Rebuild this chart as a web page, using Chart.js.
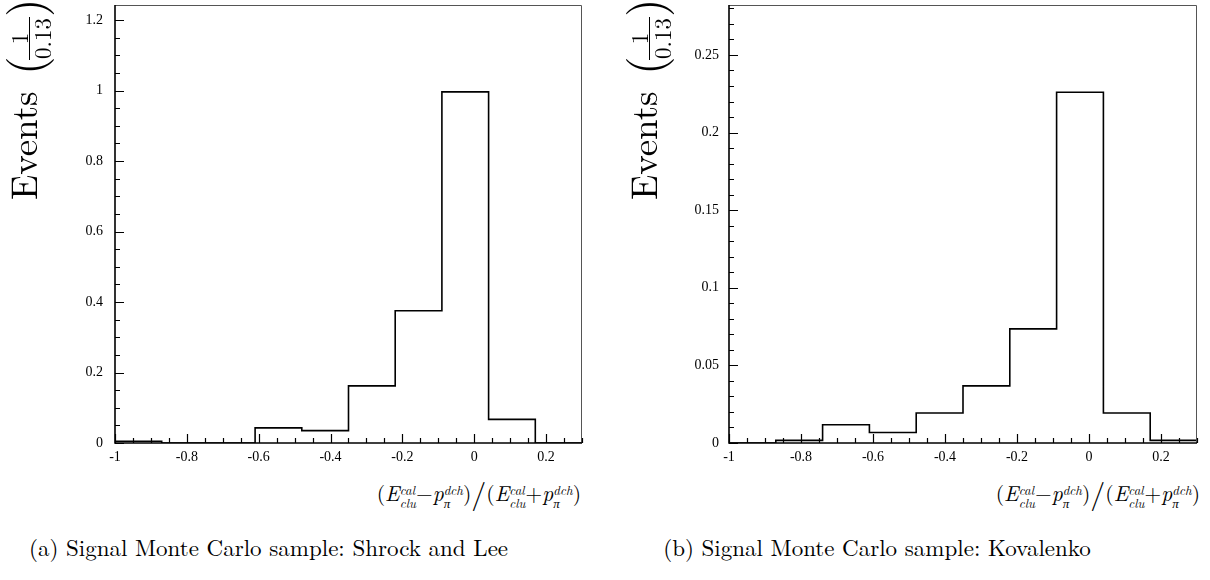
<!DOCTYPE html>
<html>
<head>
<meta charset="utf-8">
<script src="https://cdn.jsdelivr.net/npm/chart.js@4.4.1/dist/chart.umd.min.js"></script>
<style>
  html, body { margin: 0; padding: 0; background: #fff; }
  body { width: 1210px; height: 580px; position: relative; overflow: hidden;
         font-family: 'Latin Modern Roman', 'Liberation Serif', serif; color: #000; }
  canvas { position: absolute; top: 0; }
  #histA { left: 0; }
  #histB { left: 620px; }
  .ytitle { position: absolute; top: 202px; width: 205px; height: 50px;
            transform-origin: 0 0; transform: rotate(-90deg);
            font-family: 'Latin Modern Roman', 'Liberation Serif', serif; }
  .ytitle span, .ytitle div { position: absolute; white-space: nowrap; }
  .ytitle .ev  { left: 2px; top: 2px; font-size: 37px; line-height: 39px; }
  .ytitle .par { top: -2px; font-size: 48px; line-height: 48px; }
  .ytitle .num, .ytitle .den { width: 45px; left: 141px; text-align: center; font-size: 23px; line-height: 23px; }
  .ytitle .num { top: 7px; }
  .ytitle .den { top: 30px; }
  .ytitle .bar { left: 142px; top: 29px; width: 43px; height: 1px; background: #000; }
  .xtitle { position: absolute; top: 472px; font-size: 21.5px; line-height: 40px; white-space: nowrap;
            font-family: 'Latin Modern Roman', 'Liberation Serif', serif; }
  .xtitle i { font-style: italic; }
  .ss { display: inline-block; vertical-align: middle; font-size: 13px; line-height: 13px;
        font-style: italic; text-align: left; }
  .ss i { display: block; }
  .sl { font-size: 30px; vertical-align: -3px; }
  .cap { position: absolute; top: 532px; font-size: 23px; line-height: 30px; text-align: center; white-space: nowrap;
         font-family: 'Latin Modern Roman', 'Liberation Serif', serif; }
</style>
</head>
<body>
<canvas id="histA" width="605" height="470"></canvas>
<canvas id="histB" width="590" height="470"></canvas>

<div class="ytitle" style="left:0px">
  <span class="ev">Events</span>
  <span class="par" style="left:127px">(</span>
  <span class="num">1</span><div class="bar"></div><span class="den">0.13</span>
  <span class="par" style="left:185px">)</span>
</div>
<div class="ytitle" style="left:620px">
  <span class="ev">Events</span>
  <span class="par" style="left:127px">(</span>
  <span class="num">1</span><div class="bar"></div><span class="den">0.13</span>
  <span class="par" style="left:185px">)</span>
</div>

<div class="xtitle" style="right:629px">(<i>E</i><span class="ss"><i>cal</i><i>clu</i></span>−<i>p</i><span class="ss"><i>dch</i><i>π</i></span>)<span class="sl">/</span>(<i>E</i><span class="ss"><i>cal</i><i>clu</i></span>+<i>p</i><span class="ss"><i>dch</i><i>π</i></span>)</div>
<div class="xtitle" style="right:10px">(<i>E</i><span class="ss"><i>cal</i><i>clu</i></span>−<i>p</i><span class="ss"><i>dch</i><i>π</i></span>)<span class="sl">/</span>(<i>E</i><span class="ss"><i>cal</i><i>clu</i></span>+<i>p</i><span class="ss"><i>dch</i><i>π</i></span>)</div>

<div class="cap" style="left:0px; width:537px">(a) Signal Monte Carlo sample: Shrock and Lee</div>
<div class="cap" style="left:577px; width:600px">(b) Signal Monte Carlo sample: Kovalenko</div>

<script>
// Histogram bin edges (bin width 0.13) of (E_clu^cal - p_pi^dch)/(E_clu^cal + p_pi^dch)
const binEdges = [-1, -0.87, -0.74, -0.61, -0.48, -0.35, -0.22, -0.09, 0.04, 0.17, 0.30];

// Normalised event counts per bin
const eventsShrockLee = [0.005, 0, 0, 0.043, 0.035, 0.162, 0.375, 0.996, 0.067, 0];
const eventsKovalenko = [0, 0.0017, 0.0118, 0.0068, 0.0193, 0.0368, 0.0735, 0.226, 0.0193, 0.0017];

// Axis tick labels
const xTicks = [-1, -0.8, -0.6, -0.4, -0.2, 0, 0.2];
const yTicksShrockLee = [0, 0.2, 0.4, 0.6, 0.8, 1, 1.2];
const yTicksKovalenko = [0, 0.05, 0.1, 0.15, 0.2, 0.25];

// Outline of a histogram: horizontal run over each bin, vertical joins between bins
function outline(edges, values) {
  return values.flatMap((v, i) => [{ x: edges[i], y: v }, { x: edges[i + 1], y: v }]);
}

// Frame plus inward-pointing major/minor ticks on the left and bottom axes
const frameTicks = {
  id: 'frameTicks',
  afterDatasetsDraw(chart, args, opts) {
    const { ctx, chartArea: a, scales: { x, y } } = chart;
    ctx.save();
    ctx.strokeStyle = '#555';
    ctx.lineWidth = 1;
    ctx.beginPath();
    ctx.moveTo(a.left, a.top + 0.5);
    ctx.lineTo(a.right - 0.5, a.top + 0.5);
    ctx.lineTo(a.right - 0.5, a.bottom);
    ctx.stroke();

    ctx.strokeStyle = '#000';
    ctx.lineWidth = 1.6;
    ctx.beginPath();
    ctx.moveTo(a.left, a.top);
    ctx.lineTo(a.left, a.bottom);
    ctx.lineTo(a.right, a.bottom);
    ctx.stroke();

    ctx.lineWidth = 1.2;
    const isMajor = (v, majors, step) => majors.some(m => Math.abs(m - v) < step / 10);
    ctx.beginPath();
    for (let k = Math.ceil(x.min / opts.xMinor - 1e-6); k * opts.xMinor <= x.max + 1e-9; k++) {
      const v = k * opts.xMinor;
      const px = Math.round(x.getPixelForValue(v)) + 0.5;
      const len = isMajor(v, opts.xMajor, opts.xMinor) ? 9 : 5;
      ctx.moveTo(px, a.bottom);
      ctx.lineTo(px, a.bottom - len);
    }
    for (let k = Math.ceil(y.min / opts.yMinor - 1e-6); k * opts.yMinor <= y.max + 1e-9; k++) {
      const v = k * opts.yMinor;
      const py = Math.round(y.getPixelForValue(v)) + 0.5;
      const len = isMajor(v, opts.yMajor, opts.yMinor) ? 9 : 5;
      ctx.moveTo(a.left, py);
      ctx.lineTo(a.left + len, py);
    }
    ctx.stroke();
    ctx.restore();
  }
};

// Chart.js reserves room for edge labels; the plot frame here is placed exactly instead
function noEdgePadding(s) {
  s.paddingTop = 0; s.paddingBottom = 0; s.paddingLeft = 0; s.paddingRight = 0;
}

function makeHistogram(id, values, yTicks, yMax, yMinor, yAxisWidth, rightPad, yLabelPad) {
  const tickFont = { family: "'Liberation Serif', serif", size: 14 };
  return new Chart(document.getElementById(id), {
    type: 'line',
    data: {
      datasets: [{
        data: outline(binEdges, values),
        borderColor: '#000',
        borderWidth: 1.6,
        pointRadius: 0,
        fill: false,
        tension: 0
      }]
    },
    options: {
      responsive: false,
      animation: false,
      events: [],
      layout: { padding: { top: 5, right: rightPad, left: 0, bottom: 0 } },
      plugins: {
        legend: { display: false },
        tooltip: { enabled: false },
        frameTicks: { xMinor: 0.05, xMajor: xTicks, yMinor: yMinor, yMajor: yTicks }
      },
      scales: {
        x: {
          type: 'linear',
          min: -1,
          max: 0.3,
          grid: { display: false, drawTicks: false },
          border: { display: false },
          afterBuildTicks: s => { s.ticks = xTicks.map(v => ({ value: v })); },
          afterFit: s => { s.height = 27; noEdgePadding(s); },
          ticks: {
            padding: 6,
            color: '#000',
            font: tickFont,
            maxRotation: 0,
            autoSkip: false,
            callback: v => String(v)
          }
        },
        y: {
          type: 'linear',
          min: 0,
          max: yMax,
          grid: { display: false, drawTicks: false },
          border: { display: false },
          afterBuildTicks: s => { s.ticks = yTicks.map(v => ({ value: v })); },
          afterFit: s => { s.width = yAxisWidth; noEdgePadding(s); },
          ticks: {
            padding: yLabelPad,
            color: '#000',
            font: tickFont,
            autoSkip: false,
            callback: v => String(v)
          }
        }
      }
    },
    plugins: [frameTicks]
  });
}

makeHistogram('histA', eventsShrockLee, yTicksShrockLee, 1.2426, 0.05, 115, 23, 12);
makeHistogram('histB', eventsKovalenko, yTicksKovalenko, 0.2822, 0.01, 109, 13, 10);
</script>
</body>
</html>
